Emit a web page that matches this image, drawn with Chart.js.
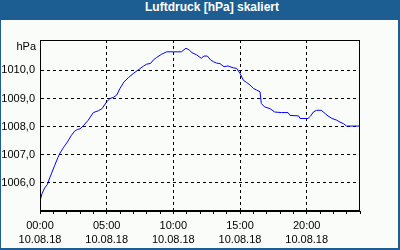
<!DOCTYPE html>
<html>
<head>
<meta charset="utf-8">
<script src="https://cdn.jsdelivr.net/npm/chart.js@4.4.1/dist/chart.umd.min.js"></script>
<style>
  html, body { margin: 0; padding: 0; background: #ffffff; }
  #frame { position: absolute; left: 0; top: 0; width: 400px; height: 250px; background: #1c5e91; overflow: hidden; }
  #title { position: absolute; left: 24px; top: 0; width: 376px; height: 20px; line-height: 20px; text-align: center;
           color: #ffffff; font: bold 12px "Liberation Sans", Arial, sans-serif; }
  #plot { position: absolute; left: 1px; top: 20px; width: 397px; height: 228px; background: #f9fcf9; }
  canvas { display: block; }
</style>
</head>
<body>
<div id="frame">
  <div id="title">Luftdruck [hPa] skaliert</div>
  <div id="plot"><canvas id="c" width="397" height="228"></canvas></div>
</div>
<script>
// Data
const hours = [0.0, 0.15, 0.35, 0.55, 0.7, 0.85, 1.1, 1.35, 1.5, 1.75, 2.05, 2.35, 2.6, 2.8, 3.0, 3.25, 3.6, 4.0, 4.4, 4.65,
  5.0, 5.25, 5.5, 5.75, 6.0, 6.3, 6.65, 7.0, 7.35, 7.75, 8.0, 8.3, 8.5, 8.75, 9.1, 9.5, 10.0, 10.6, 10.95, 11.2,
  11.4, 11.75, 12.1, 12.3, 12.55, 12.8, 13.0, 13.25, 13.5, 13.8, 14.1, 14.25, 14.5, 14.75, 15.0, 15.25, 15.5, 15.75, 16.0, 16.25,
  16.5, 16.6, 16.85, 17.25, 17.6, 18.1, 18.6, 18.75, 19.4, 19.5, 20.1, 20.3, 20.5, 20.75, 21.1, 21.4, 21.6, 21.9, 22.25, 22.5,
  22.75, 23.0, 24.0];
const pressure = [1005.35, 1005.62, 1005.82, 1005.94, 1006.14, 1006.32, 1006.62, 1006.91, 1007.06, 1007.25, 1007.45, 1007.69, 1007.84, 1007.90, 1007.92, 1008.03, 1008.22, 1008.50, 1008.57, 1008.64,
  1008.88, 1009.00, 1009.04, 1009.12, 1009.36, 1009.59, 1009.75, 1009.89, 1010.01, 1010.15, 1010.22, 1010.25, 1010.37, 1010.46, 1010.57, 1010.66, 1010.66, 1010.66, 1010.79, 1010.72,
  1010.63, 1010.55, 1010.43, 1010.51, 1010.51, 1010.37, 1010.31, 1010.26, 1010.24, 1010.13, 1010.16, 1010.13, 1010.09, 1010.07, 1009.89, 1009.65, 1009.57, 1009.48, 1009.36, 1009.30,
  1009.24, 1008.82, 1008.70, 1008.64, 1008.52, 1008.50, 1008.50, 1008.40, 1008.38, 1008.29, 1008.29, 1008.38, 1008.52, 1008.58, 1008.58, 1008.46, 1008.38, 1008.29, 1008.23, 1008.16,
  1008.11, 1008.02, 1008.02];
const yTicks = [1006, 1007, 1008, 1009, 1010];
const xTickHours = [0, 5, 10, 15, 20];
const xTimeLabels = ["00:00", "05:00", "10:00", "15:00", "20:00"];
const xDateLabels = ["10.08.18", "10.08.18", "10.08.18", "10.08.18", "10.08.18"];
const unitLabel = "hPa";

Chart.defaults.font.family = '"Liberation Sans", Arial, sans-serif';
Chart.defaults.font.size = 11;
Chart.defaults.color = '#000000';

const framePlugin = {
  id: 'framePlugin',
  afterDraw(chart) {
    const ctx = chart.ctx, a = chart.chartArea;
    const l = Math.round(a.left) + 0.5, t = Math.round(a.top) + 0.5;
    const r = Math.round(a.right) - 0.5, b = Math.round(a.bottom) - 0.5;
    ctx.save();
    ctx.setLineDash([]);
    ctx.strokeStyle = '#000000';
    ctx.lineWidth = 1;
    ctx.strokeRect(l, t, r - l, b - t);
    ctx.fillStyle = '#000000';
    ctx.font = '11px "Liberation Sans", Arial, sans-serif';
    ctx.textAlign = 'right';
    ctx.textBaseline = 'middle';
    ctx.fillText(unitLabel, a.left - 4, a.top + 7);
    ctx.restore();
  }
};

new Chart(document.getElementById('c'), {
  type: 'line',
  data: {
    datasets: [{
      data: hours.map((h, i) => ({ x: h, y: pressure[i] })),
      borderColor: '#0000ff',
      borderWidth: 1,
      pointRadius: 0,
      tension: 0,
      fill: false
    }]
  },
  options: {
    responsive: false,
    devicePixelRatio: 1,
    animation: false,
    layout: { padding: { top: 20, right: 38, left: 0, bottom: 0 } },
    plugins: { legend: { display: false }, tooltip: { enabled: false }, title: { display: false } },
    scales: {
      x: {
        type: 'linear',
        min: 0, max: 24,
        afterBuildTicks(scale) {
          const t = [];
          for (let h = 0; h <= 24; h++) t.push({ value: h });
          scale.ticks = t;
        },
        afterFit(scale) { scale.height = 37; },
        ticks: {
          autoSkip: false, maxRotation: 0, minRotation: 0, padding: 5,
          font: { size: 11, lineHeight: 1.3 },
          callback(v) {
            const i = xTickHours.indexOf(v);
            return i >= 0 ? [xTimeLabels[i], xDateLabels[i]] : '';
          }
        },
        grid: {
          color: (c) => (c.tick && c.tick.value % 5 === 0 && c.tick.value !== 0 && c.tick.value !== 24) ? '#000000' : 'rgba(0,0,0,0)',
          tickColor: '#000000',
          tickLength: 3,
          tickBorderDash: [],
          lineWidth: 1
        },
        border: { display: true, color: '#000000', width: 1, dash: [3, 3] }
      },
      y: {
        type: 'linear',
        min: 1005.0, max: 1011.08,
        afterBuildTicks(scale) { scale.ticks = yTicks.map(v => ({ value: v })); },
        afterFit(scale) { scale.width = 39; },
        ticks: {
          padding: 5,
          callback: (v) => v.toFixed(1).replace('.', ',')
        },
        grid: {
          color: '#000000',
          drawTicks: false,
          lineWidth: 1
        },
        border: { display: true, color: '#000000', width: 1, dash: [3, 3] }
      }
    }
  },
  plugins: [framePlugin]
});
</script>
</body>
</html>
